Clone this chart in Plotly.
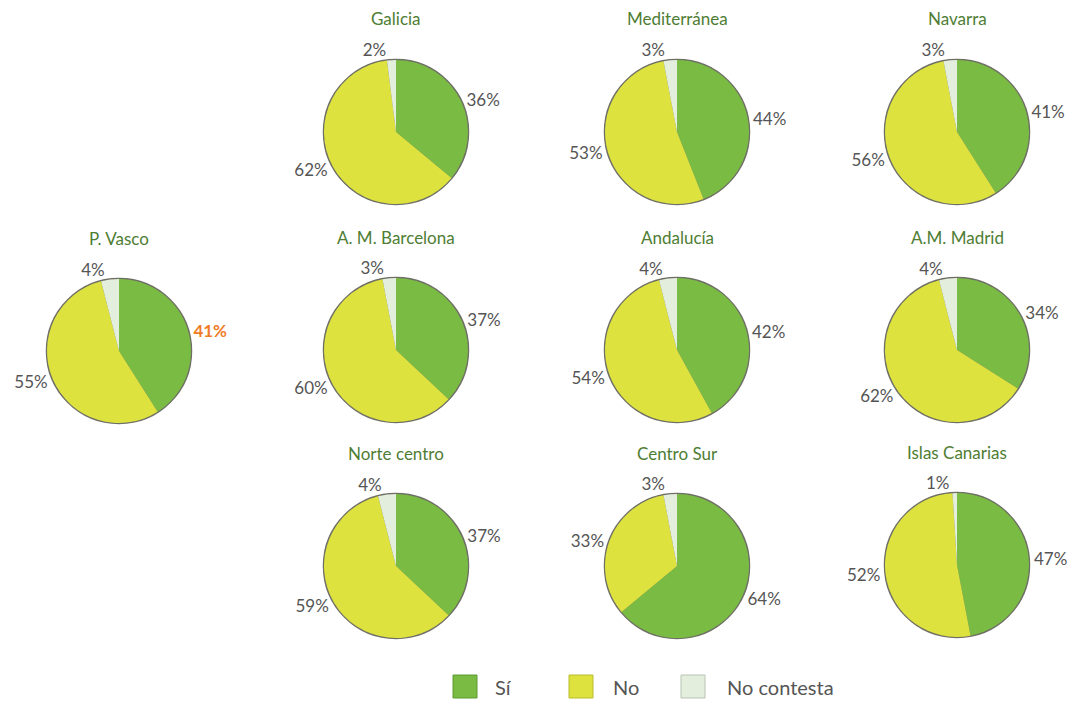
import plotly.graph_objects as go

# Survey answers by region (percent of respondents)
categories = ["Sí", "No", "No contesta"]
regions = ["Galicia", "Mediterránea", "Navarra",
           "P. Vasco", "A. M. Barcelona", "Andalucía", "A.M. Madrid",
           "Norte centro", "Centro Sur", "Islas Canarias"]
si = [36, 44, 41, 41, 37, 42, 34, 37, 64, 47]
no = [62, 53, 56, 55, 60, 54, 62, 59, 33, 52]
no_contesta = [2, 3, 3, 4, 3, 4, 4, 4, 3, 1]
highlight = "P. Vasco"

W, H = 1077, 704
R = 72
# pie centres in pixels, one per region
centres = {
    "Galicia": (396, 132), "Mediterránea": (677, 132), "Navarra": (957, 132),
    "P. Vasco": (119, 351), "A. M. Barcelona": (396, 350),
    "Andalucía": (677, 350), "A.M. Madrid": (957, 350),
    "Norte centro": (396, 566), "Centro Sur": (677, 566),
    "Islas Canarias": (957, 565),
}

colors = ["#79bb43", "#dde23f", "#e3eedd"]
text_color = "#555555"
title_color = "#4e7d33"
accent = "#f07b26"
FONT = "Lato"


def px_x(x):
    return x / W


def px_y(y):
    return 1 - y / H


fig = go.Figure()
annotations = []
for i, name in enumerate(regions):
    cx, cy = centres[name]
    dom = dict(x=[px_x(cx - R), px_x(cx + R)], y=[px_y(cy + R), px_y(cy - R)])
    # outline disc drawn underneath
    fig.add_trace(go.Pie(
        values=[1], domain=dom, sort=False, textinfo="none",
        marker=dict(colors=["#7a7a6a"], line=dict(color="#6f6f66", width=2.5)),
        hoverinfo="skip", showlegend=False))
    vals = [si[i], no[i], no_contesta[i]]
    is_hl = name == highlight
    templates = ["%{value}%"] * 3
    fcolors = [text_color] * 3
    if is_hl:
        templates[0] = "<b>%{value}%</b>"
        fcolors[0] = accent
    fig.add_trace(go.Pie(
        labels=categories, values=vals, domain=dom, sort=False,
        direction="clockwise", rotation=0,
        marker=dict(colors=colors, line=dict(width=0)),
        textposition="outside", texttemplate=templates,
        outsidetextfont=dict(family=FONT, size=17, color=fcolors),
        showlegend=False, name=name))
    annotations.append(dict(
        x=px_x(cx), y=px_y(cy - R - 41), xref="paper", yref="paper",
        text=name, showarrow=False, xanchor="center", yanchor="middle",
        font=dict(family=FONT, size=17, color=title_color)))

# legend drawn as swatches with labels
shapes = []
swatch_x = [453, 569, 681]
label_x = [493, 611, 725]
borders = ["#5f9a30", "#b9bd2c", "#b9c2b4"]
for c, b, sx, lx, lab in zip(colors, borders, swatch_x, label_x, categories):
    shapes.append(dict(type="rect", xref="paper", yref="paper",
                       x0=px_x(sx), x1=px_x(sx + 24), y0=px_y(698), y1=px_y(675),
                       fillcolor=c, line=dict(color=b, width=1)))
    annotations.append(dict(
        x=px_x(lx), y=px_y(687), xref="paper", yref="paper", text=lab,
        showarrow=False, xanchor="left", yanchor="middle",
        font=dict(family=FONT, size=20, color=text_color)))

fig.update_layout(
    width=W, height=H, margin=dict(l=0, r=0, t=0, b=0),
    paper_bgcolor="white", plot_bgcolor="white",
    annotations=annotations, shapes=shapes, showlegend=False,
)
fig.write_html("out.html")
